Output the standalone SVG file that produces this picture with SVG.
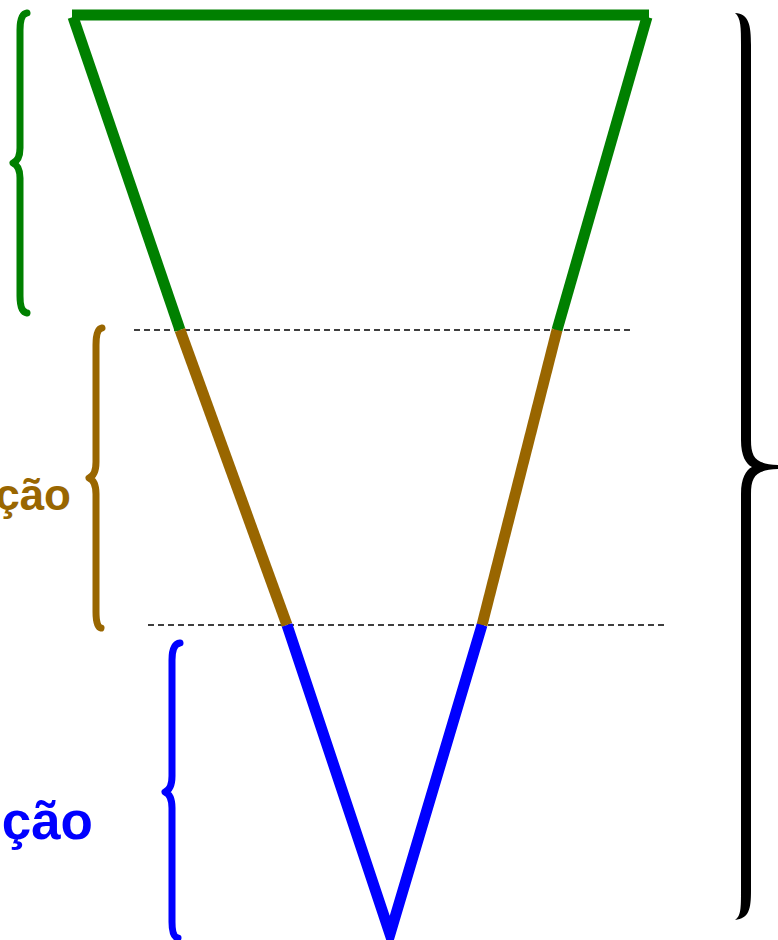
<svg xmlns="http://www.w3.org/2000/svg" width="778" height="940" viewBox="0 0 778 940">
<style>
.seg{fill:none;stroke-width:11;stroke-linecap:butt;stroke-linejoin:miter}
.brace{fill:none;stroke-width:7;stroke-linecap:round;stroke-linejoin:round}
.dash{stroke:#000;stroke-width:1.5;stroke-dasharray:6 4;fill:none}
.lbl{font-family:"Liberation Sans",Arial,sans-serif;font-weight:bold;text-anchor:end}
</style>
<rect width="778" height="940" fill="#fff"/>
<g id="connectors">
<line class="dash" x1="134" y1="330" x2="634" y2="330"/>
<line class="dash" x1="148" y1="625" x2="664" y2="625"/>
</g>
<g id="funnel-top">
<line class="seg" stroke="#008000" x1="72" y1="15" x2="649" y2="15"/>
<line class="seg" stroke="#008000" x1="73" y1="17" x2="180" y2="330"/>
<line class="seg" stroke="#008000" x1="647" y1="17" x2="557" y2="330"/>
</g>
<g id="funnel-middle">
<line class="seg" stroke="#996600" x1="180" y1="330" x2="287" y2="625"/>
<line class="seg" stroke="#996600" x1="557" y1="330" x2="482" y2="625"/>
</g>
<g id="funnel-bottom">
<polyline class="seg" stroke="#0000FF" stroke-linejoin="round" points="287,625 390,934 482,625"/>
</g>
<g id="brace-green">
<path class="brace" stroke="#008000" d="M27,13 Q20,14 20,30 L20,148 Q20,160 13,163 Q20,166 20,178 L20,296 Q20,312 27,313"/>
</g>
<g id="brace-brown">
<path class="brace" stroke="#996600" d="M102,328 Q96,329 96,345 L96,462 Q96,475 89,478 Q96,481 96,494 L96,612 Q96,627 101,628"/>
<text class="lbl" x="71" y="510" font-size="44" fill="#996600">ção</text>
</g>
<g id="brace-blue">
<path class="brace" stroke="#0000FF" d="M180,643 Q172,644 172,660 L172,776 Q172,789 165,792 Q172,795 172,808 L172,922 Q172,937 178,938"/>
<text class="lbl" x="93" y="839" font-size="53" fill="#0000FF">ção</text>
</g>
<g id="brace-black">
<path fill="#000" d="M735,13 C749,14 751,25 751,45 L751,440 C751,458 756,464 778,465 L778,469 C756,470 751,476 751,494 L751,890 C751,910 749,918 735,920 C741,916 741,908 741,890 L741,494 C741,478 746,470 752,467 C746,464 741,456 741,440 L741,45 C741,28 741,18 735,13 Z"/>
</g>
</svg>
